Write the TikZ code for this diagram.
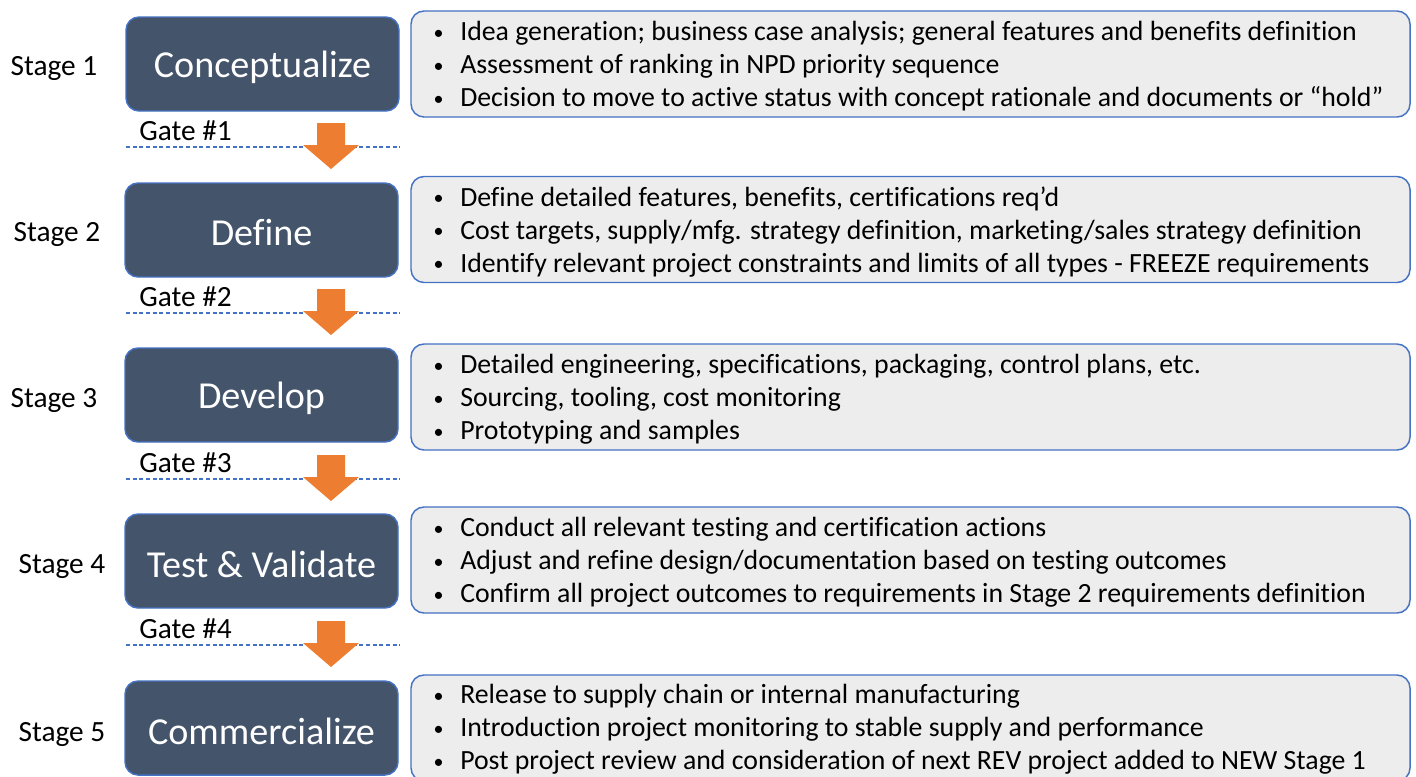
\documentclass[tikz,border=0pt]{standalone}
\usepackage{fontspec}
\setmainfont{Carlito}[Ligatures={NoCommon,TeX}]
\definecolor{stagefill}{HTML}{44546A}
\definecolor{accentblue}{HTML}{4472C4}
\definecolor{detailfill}{HTML}{EDEDED}
\definecolor{arroworange}{HTML}{ED7D31}
\newcommand{\bul}{\makebox[23.25pt][l]{\hspace{3.2pt}\raisebox{1.2pt}{\fontsize{15}{15}\selectfont\textbullet}}}
\tikzset{
  stagebox/.style={draw=accentblue, line width=1.1pt, fill=stagefill, rounded corners=9.75pt,
    minimum width=204.75pt, minimum height=70.5pt, inner sep=0pt},
  stagetitle/.style={inner sep=0pt, text=white, font=\fontsize{28.6}{33}\selectfont},
  detailbox/.style={draw=accentblue, line width=1.1pt, fill=detailfill, rounded corners=9.75pt,
    minimum width=749.25pt, minimum height=79.5pt, inner sep=0pt},
  detailtext/.style={anchor=west, align=left, inner sep=0pt, font=\fontsize{20.85}{24.75}\selectfont},
  stagelabel/.style={inner sep=0pt, font=\fontsize{22}{26}\selectfont},
  gatelabel/.style={anchor=west, inner sep=0pt, font=\fontsize{22}{26}\selectfont},
  gateline/.style={draw=accentblue, line width=1pt, dash pattern=on 3pt off 2pt},
  gatearrow/.style={fill=arroworange, draw=none}
}
\begin{document}
\begin{tikzpicture}[x=0.75pt,y=-0.75pt]
\useasboundingbox (0,0) rectangle (1416,776);
% stage boxes
\node[stagebox] (s1) at (262.5,64) {};
\node[stagebox] (s2) at (261.5,230) {};
\node[stagebox] (s3) at (261.5,395) {};
\node[stagebox] (s4) at (261.5,561) {};
\node[stagebox] (s5) at (261.5,728) {};
\node[stagetitle] (c1) at ([yshift=-2.2pt]s1.center) {Conceptualize};
\node[stagetitle] (c2) at ([yshift=-2.2pt]s2.center) {Define};
\node[stagetitle] (c3) at ([yshift=-2.2pt]s3.center) {Develop};
\node[stagetitle] (c4) at ([yshift=-2.2pt]s4.center) {Test \& Validate};
\node[stagetitle] (c5) at ([yshift=-2.2pt]s5.center) {Commercialize};
% detail boxes
\node[detailbox] (d1) at (910.5,64) {};
\node[detailbox] (d2) at (910.5,229.5) {};
\node[detailbox] (d3) at (910.5,397) {};
\node[detailbox] (d4) at (910.5,560) {};
\node[detailbox] (d5) at (910.5,728) {};
\node[detailtext] (t1) at (429,66.5) {\bul Idea generation; business case analysis; general features and benefits definition\\
\bul Assessment of ranking in NPD priority sequence\\
\bul Decision to move to active status with concept rationale and documents or “hold”};
\node[detailtext] (t2) at (429,232) {\bul Define detailed features, benefits, certifications req’d\\
\bul Cost targets, supply/mfg. strategy definition, marketing/sales strategy definition\\
\bul Identify relevant project constraints and limits of all types - FREEZE requirements};
\node[detailtext] (t3) at (429,399.5) {\bul Detailed engineering, specifications, packaging, control plans, etc.\\
\bul Sourcing, tooling, cost monitoring\\
\bul Prototyping and samples};
\node[detailtext] (t4) at (429,562.5) {\bul Conduct all relevant testing and certification actions\\
\bul Adjust and refine design/documentation based on testing outcomes\\
\bul Confirm all project outcomes to requirements in Stage 2 requirements definition};
\node[detailtext] (t5) at (429,729.5) {\bul Release to supply chain or internal manufacturing\\
\bul Introduction project monitoring to stable supply and performance\\
\bul Post project review and consideration of next REV project added to NEW Stage 1};
% stage labels
\node[stagelabel] (l1) at (54,68) {Stage 1};
\node[stagelabel] (l2) at (57,234) {Stage 2};
\node[stagelabel] (l3) at (54,400) {Stage 3};
\node[stagelabel] (l4) at (62,566) {Stage 4};
\node[stagelabel] (l5) at (62,734) {Stage 5};
% gates
\foreach \i/\dy in {1/0,2/166,3/332,4/498}{
  \node[gatelabel] (g\i) at (139,131+\dy) {Gate \#\i};
  \draw[gateline] (126,147+\dy) -- (400,147+\dy);
  \fill[gatearrow] (317,123+\dy) -- (345,123+\dy) -- (345,145+\dy) -- (359,145+\dy)
     -- (331,169+\dy) -- (303,145+\dy) -- (317,145+\dy) -- cycle;
}
\end{tikzpicture}
\end{document}
